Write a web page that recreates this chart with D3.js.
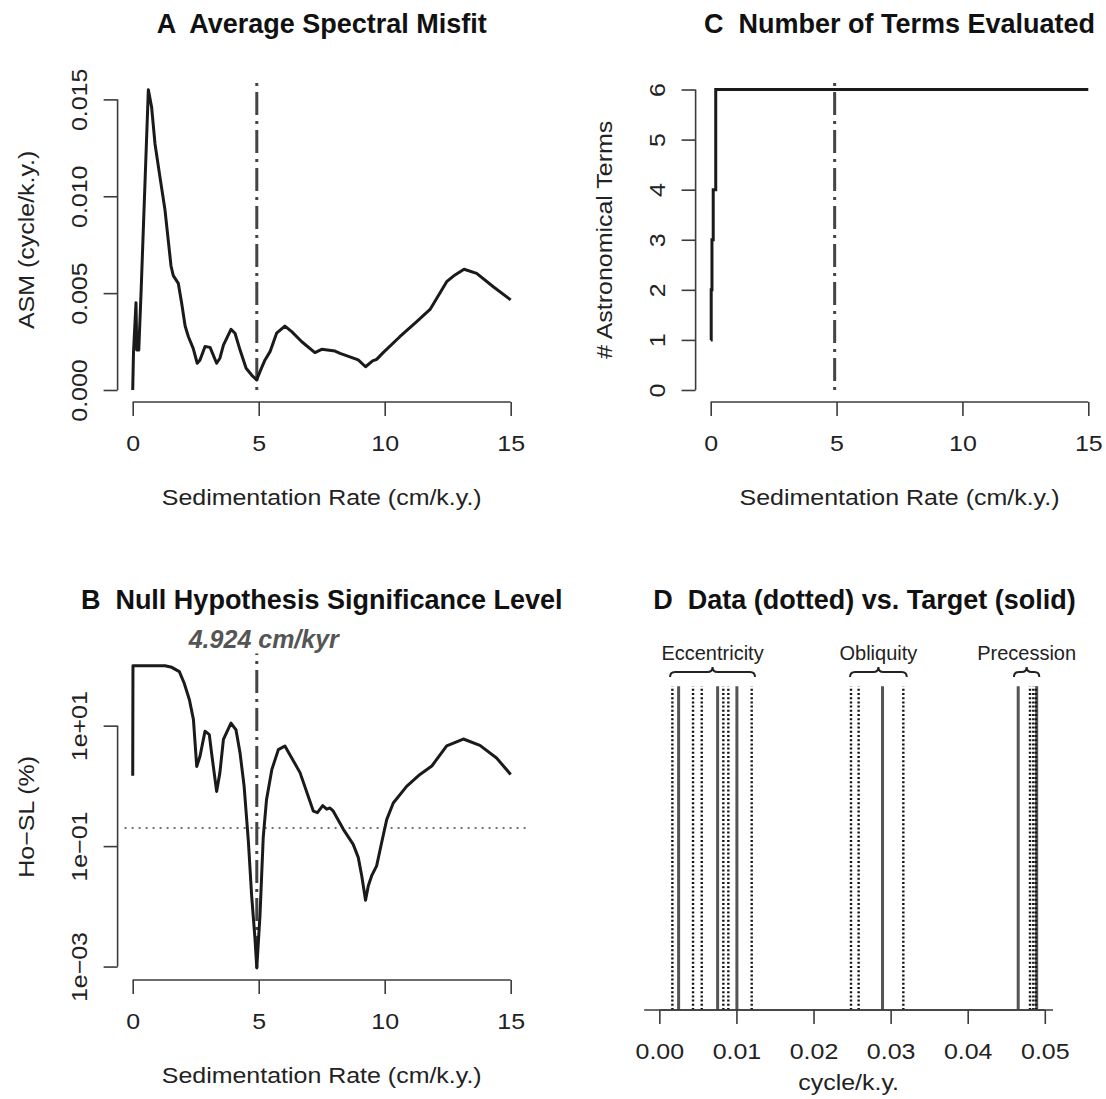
<!DOCTYPE html>
<html>
<head>
<meta charset="utf-8">
<script src="https://cdn.jsdelivr.net/npm/d3@7"></script>
<style>
  body { margin: 0; background: #fff; }
  svg text { font-family: "Liberation Sans", Arial, Helvetica, sans-serif; }
</style>
</head>
<body>
<div id="chart"></div>
<script>
// ---- data ----
// A: average spectral misfit vs sedimentation rate
const rateA = [0, 0.03, 0.13, 0.16, 0.24, 0.33, 0.62, 0.75, 0.885, 1.08, 1.28, 1.52, 1.61, 1.81, 1.94, 2.08,
  2.21, 2.4, 2.56, 2.67, 2.87, 3.07, 3.33, 3.46, 3.6, 3.9, 4.06, 4.26, 4.5, 4.72, 4.92, 5.05, 5.25, 5.45,
  5.71, 6.04, 6.31, 6.71, 7.23, 7.5, 8.03, 8.23, 8.95, 9.24, 9.52, 9.68, 9.94, 10.6, 11.27, 11.8, 12.46,
  12.79, 13.15, 13.65, 14.31, 15];
const asm = [0, 1.9, 4.5, 2.06, 2.06, 5.0, 15.5, 14.6, 12.7, 11.0, 9.3, 6.4, 5.9, 5.5, 4.5, 3.3,
  2.75, 2.15, 1.38, 1.55, 2.24, 2.2, 1.38, 1.64, 2.32, 3.13, 2.93, 2.06, 1.12, 0.77, 0.52, 0.95, 1.55, 1.98,
  2.93, 3.3, 3.01, 2.49, 1.93, 2.1, 2.01, 1.89, 1.55, 1.2, 1.5, 1.58, 1.93, 2.75, 3.53, 4.16, 5.59,
  5.94, 6.23, 6.02, 5.33, 4.65].map(v => v / 1000);

// B: null hypothesis significance level (%)
const rateB = [0, 0.01, 1.28, 1.55, 1.85, 2.04, 2.25, 2.41, 2.54, 2.67, 2.87, 3.04, 3.13, 3.33, 3.46, 3.6,
  3.9, 4.1, 4.26, 4.42, 4.59, 4.72, 4.85, 4.924, 5.05, 5.18, 5.31, 5.52, 5.78, 6.04, 6.64, 7.17, 7.33,
  7.54, 7.7, 7.83, 7.96, 8.36, 8.75, 8.95, 9.09, 9.24, 9.35, 9.48, 9.68, 9.88, 10.08, 10.34, 10.87,
  11.4, 11.87, 12.46, 13.12, 13.78, 14.44, 15];
const hosl = [1.48, 99, 99, 93, 79, 51, 27, 12.6, 2.1, 3.1, 8.1, 7.1, 3.5, 0.81, 1.66, 5.9,
  11, 8.5, 3.5, 1.0, 0.12, 0.015, 0.003, 0.00095, 0.007, 0.14, 0.59, 1.86, 4.0, 4.6, 1.66, 0.38, 0.36,
  0.47, 0.41, 0.43, 0.38, 0.19, 0.107, 0.065, 0.032, 0.0126, 0.022, 0.032, 0.047, 0.115, 0.275, 0.52, 0.98,
  1.55, 2.14, 4.6, 6.0, 4.7, 2.9, 1.55];

// C: number of astronomical terms evaluated
const rateC = [0, 0.02, 0.05, 0.1, 0.2, 15];
const nTerms = [1, 2, 3, 4, 6, 6];

// D: data peaks (dotted) vs astronomical targets (solid), cycle/k.y.
const dataFreq = [0.00169, 0.00437, 0.0055, 0.0083, 0.00895, 0.01198, 0.02486, 0.02585, 0.03165,
  0.04808, 0.04851, 0.04885];
const targetFreq = [0.0025, 0.00756, 0.01006, 0.02895, 0.04655, 0.04895];
const groupNames = ["Eccentricity", "Obliquity", "Precession"];
const groupFrom = [0.00139, 0.02474, 0.0460];
const groupTo = [0.01241, 0.03209, 0.04929];

const optRate = 4.924;
const sigLevel = 0.2;

const rateTicks = [0, 5, 10, 15];
const asmTicks = [0, 0.005, 0.010, 0.015];
const asmTickLabels = ["0.000", "0.005", "0.010", "0.015"];
const termTicks = [0, 1, 2, 3, 4, 5, 6];
const hoslTicks = [1e-3, 1e-1, 1e1];
const hoslTickLabels = ["1e\u221203", "1e\u221201", "1e+01"];
const freqTicks = [0, 0.01, 0.02, 0.03, 0.04, 0.05];

// ---- drawing ----
const W = 1106, H = 1099;
const ink = "#1a1a1a", axisCol = "#3c3c3c", FS = 22.5;
const SX = 1.11;   // the original's regular text runs wider than Liberation Sans

const svg = d3.select("#chart").append("svg")
  .attr("width", W).attr("height", H)
  .style("background", "#fff");

function rPad(ext, f) {
  f = f === undefined ? 0.04 : f;
  const d = (ext[1] - ext[0]) * f;
  return [ext[0] - d, ext[1] + d];
}

function bottomAxis(box, x, ticks, fmt) {
  const ax = svg.append("g")
    .attr("transform", `translate(0,${box.y1})`)
    .call(d3.axisBottom(x).tickValues(ticks).tickSize(14).tickPadding(19).tickFormat(fmt))
    .attr("font-family", null).attr("font-size", FS).attr("color", "#222");
  ax.select(".domain").remove();
  ax.append("line")
    .attr("x1", x(ticks[0])).attr("x2", x(ticks[ticks.length - 1]))
    .attr("stroke", axisCol).attr("stroke-width", 1.6);
  ax.selectAll(".tick line").attr("stroke", axisCol).attr("stroke-width", 1.6);
  ax.selectAll(".tick text").attr("transform", `scale(${SX},1)`);
}

function leftAxis(box, y, ticks, fmt) {
  const ax = svg.append("g")
    .attr("transform", `translate(${box.x0},0)`)
    .call(d3.axisLeft(y).tickValues(ticks).tickSize(14).tickFormat(fmt))
    .attr("font-family", null).attr("font-size", FS).attr("color", "#222");
  ax.select(".domain").remove();
  ax.append("line")
    .attr("y1", y(ticks[0])).attr("y2", y(ticks[ticks.length - 1]))
    .attr("stroke", axisCol).attr("stroke-width", 1.6);
  ax.selectAll(".tick line").attr("stroke", axisCol).attr("stroke-width", 1.6);
  ax.selectAll(".tick text")
    .attr("transform", `rotate(-90) scale(${SX},1)`)
    .attr("x", 0).attr("y", -31).attr("dy", null)
    .attr("text-anchor", "middle");
}

function titles(box, main, xlab, ylab, opts) {
  opts = opts || {};
  const cx = (box.x0 + box.x1) / 2, cy = (box.y0 + box.y1) / 2;
  svg.append("text")
    .attr("x", cx + (opts.mainDx || 0)).attr("y", box.y0 - 45)
    .attr("text-anchor", "middle").attr("font-size", 27).attr("font-weight", "bold")
    .attr("fill", "#111").style("white-space", "pre")
    .text(main);
  svg.append("text")
    .attr("transform", `translate(${cx},${box.y1 + (opts.xlabDy || 103)}) scale(${SX},1)`)
    .attr("text-anchor", "middle").attr("font-size", FS).attr("fill", "#222")
    .text(xlab);
  if (ylab) {
    svg.append("text")
      .attr("transform", `translate(${box.x0 - 84},${cy}) rotate(-90) scale(${SX},1)`)
      .attr("text-anchor", "middle").attr("font-size", FS).attr("fill", "#222")
      .text(ylab);
  }
}

function optLine(x, yLow, yTop) {
  svg.append("line")
    .attr("x1", x(optRate)).attr("x2", x(optRate))
    .attr("y1", yLow).attr("y2", yTop)
    .attr("stroke", "#444").attr("stroke-width", 3)
    .attr("stroke-dasharray", "3,6,23,6");
}

// Panel A
(function () {
  const box = { x0: 117.6, x1: 525.8, y0: 77.7, y1: 402 };
  const x = d3.scaleLinear().domain(rPad([0, 15])).range([box.x0, box.x1]);
  const y = d3.scaleLinear().domain(rPad(d3.extent(asm))).range([box.y1, box.y0]);
  optLine(x, y(0), box.y0);
  const pts = rateA.map((r, i) => [r, asm[i]]);
  svg.append("path").datum(pts)
    .attr("d", d3.line().x(d => x(d[0])).y(d => y(d[1])))
    .attr("fill", "none").attr("stroke", ink).attr("stroke-width", 3).attr("stroke-linejoin", "round");
  bottomAxis(box, x, rateTicks, d3.format("d"));
  leftAxis(box, y, asmTicks, (d, i) => asmTickLabels[i]);
  titles(box, "A  Average Spectral Misfit", "Sedimentation Rate (cm/k.y.)", "ASM (cycle/k.y.)");
})();

// Panel C
(function () {
  const box = { x0: 695.6, x1: 1103.4, y0: 77.5, y1: 402 };
  const x = d3.scaleLinear().domain(rPad([0, 15])).range([box.x0, box.x1]);
  const y = d3.scaleLinear().domain(rPad([0, 6])).range([box.y1, box.y0]);
  optLine(x, y(0), box.y0);
  const pts = rateC.map((r, i) => [r, nTerms[i]]);
  svg.append("path").datum(pts)
    .attr("d", d3.line().curve(d3.curveStepAfter).x(d => x(d[0])).y(d => y(d[1])))
    .attr("fill", "none").attr("stroke", ink).attr("stroke-width", 3);
  bottomAxis(box, x, rateTicks, d3.format("d"));
  leftAxis(box, y, termTicks, d3.format("d"));
  titles(box, "C  Number of Terms Evaluated", "Sedimentation Rate (cm/k.y.)", "# Astronomical Terms");
})();

// Panel B
(function () {
  const box = { x0: 117.6, x1: 525.8, y0: 653.6, y1: 980 };
  const x = d3.scaleLinear().domain(rPad([0, 15])).range([box.x0, box.x1]);
  const le = rPad(d3.extent(hosl).map(Math.log10));
  const y = d3.scaleLog().domain([Math.pow(10, le[0]), Math.pow(10, le[1])]).range([box.y1, box.y0]);
  optLine(x, y(d3.min(hosl)), box.y0);
  svg.append("line")
    .attr("x1", box.x0 + 7).attr("x2", box.x1)
    .attr("y1", y(sigLevel)).attr("y2", y(sigLevel))
    .attr("stroke", "#444").attr("stroke-width", 1.6).attr("stroke-dasharray", "2,5");
  const pts = rateB.map((r, i) => [r, hosl[i]]);
  svg.append("path").datum(pts)
    .attr("d", d3.line().x(d => x(d[0])).y(d => y(d[1])))
    .attr("fill", "none").attr("stroke", ink).attr("stroke-width", 3).attr("stroke-linejoin", "round");
  bottomAxis(box, x, rateTicks, d3.format("d"));
  leftAxis(box, y, hoslTicks, (d, i) => hoslTickLabels[i]);
  titles(box, "B  Null Hypothesis Significance Level", "Sedimentation Rate (cm/k.y.)", "Ho\u2212SL (%)");
  svg.append("text")
    .attr("x", x(optRate) + 7).attr("y", box.y0 - 6)
    .attr("text-anchor", "middle").attr("font-size", 25)
    .attr("font-weight", "bold").attr("font-style", "italic").attr("fill", "#555")
    .text(optRate + " cm/kyr");
})();

// Panel D
(function () {
  const box = { x0: 644.2, x1: 1053, y0: 654, y1: 1010 };
  const x = d3.scaleLinear().domain(rPad([0, 0.0491])).range([box.x0, box.x1]);
  const y = d3.scaleLinear().domain([0, 1.1]).range([box.y1, box.y0]);

  svg.append("g").selectAll("line").data(targetFreq).join("line")
    .attr("x1", d => x(d)).attr("x2", d => x(d))
    .attr("y1", y(0)).attr("y2", y(1))
    .attr("stroke", "#555").attr("stroke-width", 3);
  svg.append("g").selectAll("line").data(dataFreq).join("line")
    .attr("x1", d => x(d)).attr("x2", d => x(d))
    .attr("y1", y(0)).attr("y2", y(1))
    .attr("stroke", "#111").attr("stroke-width", 2.4).attr("stroke-dasharray", "2,2.2");

  svg.append("line")
    .attr("x1", box.x0).attr("x2", box.x1).attr("y1", y(0)).attr("y2", y(0))
    .attr("stroke", axisCol).attr("stroke-width", 1.6);

  // braces and group labels
  const yArm = 677, yBar = 672, yTip = 667, r = 5;
  groupNames.forEach((name, i) => {
    const x0 = x(groupFrom[i]), x1 = x(groupTo[i]), xm = (x0 + x1) / 2;
    const rr = Math.min(r, (x1 - x0) / 4);
    svg.append("path")
      .attr("d", `M${x0},${yArm} Q${x0},${yBar} ${x0 + rr},${yBar} L${xm - rr},${yBar} Q${xm},${yBar} ${xm},${yTip}` +
        ` Q${xm},${yBar} ${xm + rr},${yBar} L${x1 - rr},${yBar} Q${x1},${yBar} ${x1},${yArm}`)
      .attr("fill", "none").attr("stroke", "#222").attr("stroke-width", 2);
    svg.append("text")
      .attr("x", xm).attr("y", 660)
      .attr("text-anchor", "middle").attr("font-size", 20).attr("fill", "#222")
      .text(name);
  });

  bottomAxis(box, x, freqTicks, d3.format(".2f"));
  titles(box, "D  Data (dotted) vs. Target (solid)", "cycle/k.y.", null, { mainDx: 16, xlabDy: 80 });
})();
</script>
</body>
</html>
